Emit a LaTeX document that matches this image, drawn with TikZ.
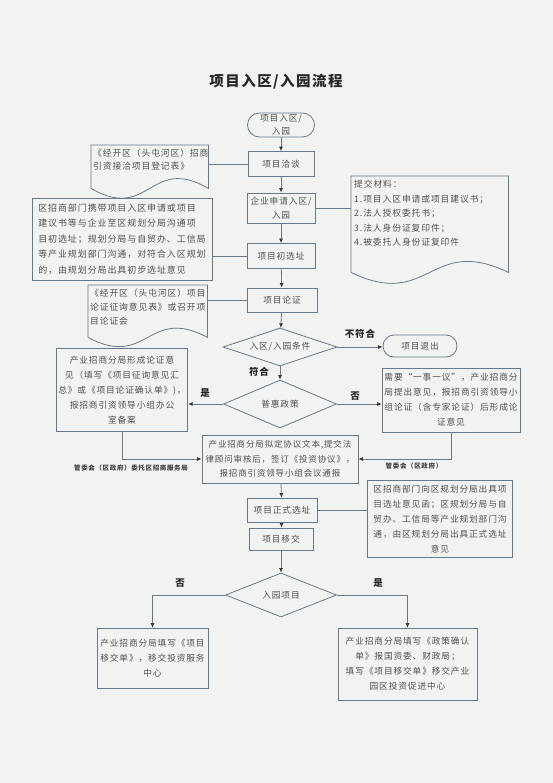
\documentclass[tikz,border=0pt]{standalone}
\usepackage{fontspec}
\newfontfamily\cjk{Noto Sans CJK SC}[LetterSpace=10]
\usepackage{xcolor}
\usepackage{tikz}
\usetikzlibrary{arrows.meta,positioning,calc,backgrounds,shapes}
\definecolor{paperbg}{RGB}{242,242,240}
\definecolor{boxline}{RGB}{100,122,142}
\definecolor{boxtext}{RGB}{80,80,80}
\definecolor{tipgray}{RGB}{55,55,55}

\begin{document}
\begin{tikzpicture}[
        x=1pt, y=-1pt,
        >={Latex[length=4.5pt,width=4pt,color=tipgray]},
        font=\cjk\fontsize{8.7}{14}\selectfont,
        % 节点样式定义
        stepbox/.style={draw=boxline, line width=0.8pt, rectangle, text=boxtext, minimum width=68pt, minimum height=25pt, inner sep=1pt, align=center},
        termbox/.style={stepbox, rounded corners=11pt},
        notebox/.style={draw=boxline, line width=0.8pt, rectangle, text=boxtext, inner sep=2pt},
        docbody/.style={draw=none, inner sep=0pt, anchor=north west},
        doctext/.style={text=boxtext, inner sep=1pt, align=left, anchor=north west},
        decision/.style={draw=boxline, line width=0.8pt, diamond, text=boxtext, inner sep=0pt},
        % 连线样式定义
        flow/.style={->, draw=boxline, line width=0.8pt},
        link/.style={draw=boxline, line width=0.8pt},
        docline/.style={draw=boxline, line width=0.8pt},
        % 标签样式
        branch/.style={font=\cjk\bfseries\fontsize{9.5}{11}\selectfont, text=black!85},
        govlabel/.style={font=\cjk\bfseries\fontsize{6.5}{8}\selectfont, text=black!75}
    ]

    % 标题
    \node[font=\cjk\bfseries\fontsize{14.5}{16}\selectfont, text=black!85] (title) at (276,82) {项目入区/入园流程};

    % 主流程
    \node[termbox, minimum width=67pt, minimum height=24pt, rounded corners=12pt, font=\cjk\fontsize{8.7}{13}\selectfont] (start) at (281,125) {项目入区/\\入园};
    \node[stepbox, minimum width=66pt] (qiatan) at (281,164) {项目洽谈};
    \node[stepbox, minimum height=30pt] (apply) at (281,208) {企业申请入区/\\入园};
    \node[stepbox] (chuxuan) at (281,256) {项目初选址};
    \node[stepbox, minimum width=70pt, minimum height=24pt] (lunzheng) at (282,300) {项目论证};
    \node[decision, aspect=3, minimum width=114pt, minimum height=38pt] (cond) at (280,347) {入区/入园条件};
    \node[termbox, minimum width=74pt, minimum height=22pt] (exit) at (420,346) {项目退出};
    \node[decision, aspect=2.35, minimum width=113pt, minimum height=48pt] (puhui) at (280,404) {普惠政策};
    \node[notebox, minimum width=122pt, minimum height=83pt, align=center, font=\cjk\fontsize{8.7}{15}\selectfont] (leftres) at (122,390)
        {产业招商分局形成论证意\\见（填写《项目征询意见汇\\总》或《项目论证确认单》)，\\报招商引资领导小组办公\\室备案};
    \node[notebox, minimum width=138pt, minimum height=64pt, align=center, font=\cjk\fontsize{8.7}{15}\selectfont] (rightres) at (451,400)
        {需要“一事一议”，产业招商分\\局提出意见，报招商引资领导小\\组论证（含专家论证）后形成论\\证意见};
    \node[notebox, minimum width=156pt, minimum height=48pt, align=center, font=\cjk\fontsize{8.5}{14.5}\selectfont] (agreement) at (280,459)
        {产业招商分局拟定协议文本,提交法\\律顾问审核后，签订《投资协议》，\\报招商引资领导小组会议通报};
    \node[stepbox, minimum width=70pt, minimum height=24pt] (site) at (282,510) {项目正式选址};
    \node[notebox, minimum width=145pt, minimum height=77pt, align=center, font=\cjk\fontsize{8.7}{15}\selectfont] (sitenote) at (440,519)
        {区招商部门向区规划分局出具项\\目选址意见函；区规划分局与自\\贸办、工信局等产业规划部门沟\\通，由区规划分局出具正式选址\\意见};
    \node[stepbox, minimum width=64pt, minimum height=22pt] (handover) at (281,539) {项目移交};
    \node[decision, aspect=2.5, minimum width=111pt, minimum height=44pt] (park) at (281,595) {入园项目};
    \node[notebox, minimum width=111pt, minimum height=60pt, align=center, font=\cjk\fontsize{8.7}{15}\selectfont] (leftfinal) at (152.5,658)
        {产业招商分局填写《项目\\移交单》，移交投资服务\\中心};
    \node[notebox, minimum width=139pt, minimum height=72pt, align=center, font=\cjk\fontsize{8.7}{15}\selectfont] (rightfinal) at (407.5,664)
        {产业招商分局填写《政策确认\\单》报国资委、财政局；\\填写《项目移交单》移交产业\\园区投资促进中心};

    % 左侧说明框
    \node[notebox, minimum width=180pt, minimum height=82pt, align=left, font=\cjk\fontsize{9}{15.5}\selectfont] (plannote) at (122,239)
        {区招商部门携带项目入区申请或项目\\建议书等与企业至区规划分局沟通项\\目初选址；规划分局与自贸办、工信局\\等产业规划部门沟通，对符合入区规划\\的，由规划分局出具初步选址意见};

    % 文档框（波浪底边）
    \node[docbody, minimum width=117pt, minimum height=43pt] (regdoc) at (91,145) {};
    \node[doctext, font=\cjk\fontsize{8.8}{12.5}\selectfont] (regtxt) at ($(regdoc.north west)+(1,3)$)
        {《经开区（头屯河区）招商\\引资接洽项目登记表》};
    \node[docbody, minimum width=157pt, minimum height=96pt] (matdoc) at (351,176) {};
    \node[doctext, font=\cjk\fontsize{8.8}{14.5}\selectfont] (mattxt) at ($(matdoc.north west)+(2,3)$)
        {提交材料：\\1.项目入区申请或项目建议书；\\2.法人授权委托书；\\3.法人身份证复印件；\\4.被委托人身份证复印件};
    \node[docbody, minimum width=119pt, minimum height=52pt] (askdoc) at (88,285) {};
    \node[doctext, font=\cjk\fontsize{8.8}{14}\selectfont] (asktxt) at ($(askdoc.north west)+(1,3)$)
        {《经开区（头屯河区）项目\\论证征询意见表》或召开项\\目论证会};

    \foreach \d/\k in {regdoc/34, matdoc/38, askdoc/32}
        \draw[docline] (\d.south west) -- (\d.north west) -- (\d.north east) -- (\d.south east)
            .. controls ($(\d.south)+(0,-\k)$) and ($(\d.south)+(0,\k)$) .. (\d.south west);

    % 主干连线
    \draw[flow] (start) -- (qiatan);
    \draw[flow] (qiatan) -- (apply);
    \draw[flow] (apply) -- (chuxuan);
    \draw[flow] (chuxuan) -- (lunzheng);
    \draw[flow] (lunzheng) -- (cond);
    \draw[flow] (cond.east) -- (cond.east -| exit.west);
    \draw[flow] (cond.south) -- (puhui.north);
    \draw[flow] (puhui.west) -- (puhui.west -| leftres.east);
    \draw[flow] (puhui.east) -- (puhui.east -| rightres.west);
    \draw[flow] (leftres.south) |- (agreement.west);
    \draw[flow] (rightres.south) |- (agreement.east);
    \draw[flow] (agreement) -- (site);
    \draw[flow] (site) -- (handover);
    \draw[flow] (handover) -- (park);
    \draw[flow] (park.west) -| (leftfinal.north);
    \draw[flow] (park.east) -| (rightfinal.north);

    % 说明连线
    \draw[link] (qiatan.west) -- (qiatan.west -| regdoc.east);
    \draw[link] (apply.east) -- (apply.east -| matdoc.west);
    \draw[link] (chuxuan.west) -- (chuxuan.west -| plannote.east);
    \draw[link] (lunzheng.west) -- (lunzheng.west -| askdoc.east);
    \draw[link] (site.east) -- (site.east -| sitenote.west);

    % 分支标签
    \node[branch] (nofit) at (360,334) {不符合};
    \node[branch] (fit) at (259,372) {符合};
    \node[branch] (yes1) at (205,393) {是};
    \node[branch] (no1) at (355,396) {否};
    \node[branch] (no2) at (180,583) {否};
    \node[branch] (yes2) at (378,583) {是};
    \node[govlabel, anchor=north] (govleft) at (131,461) {管委会（区政府）委托区招商服务局};
    \node[govlabel] (govright) at (414,466) {管委会（区政府）};

    % 纸张背景
    \begin{pgfonlayer}{background}
        \fill[paperbg] (0,0) rectangle (553,783);
    \end{pgfonlayer}
    \useasboundingbox (0,0) rectangle (553,783);

\end{tikzpicture}
\end{document}
